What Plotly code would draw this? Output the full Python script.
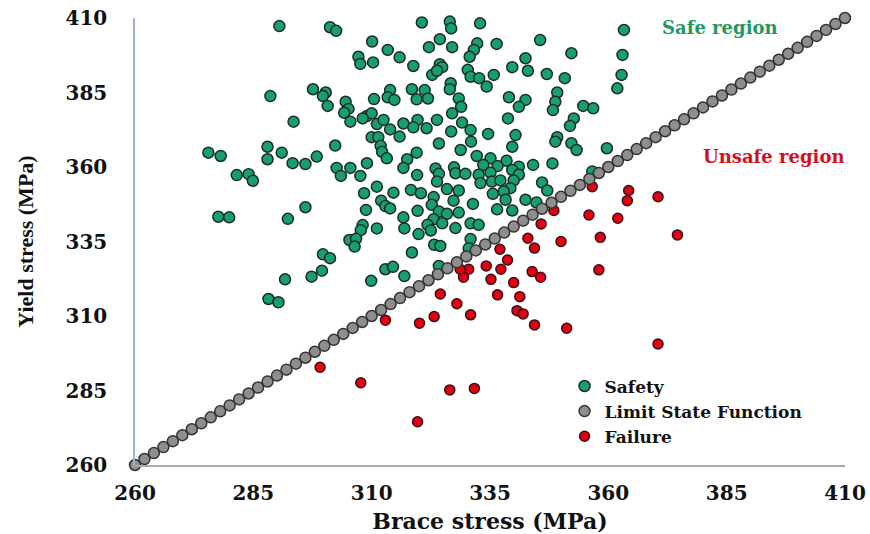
import plotly.graph_objects as go

# ---- data (MPa) ----
safety_x = [290.5, 301.2, 302.5, 310.1, 313.4, 307.2, 307.6, 310.3, 315.9, 288.6, 297.6, 300.3, 299.7, 304.5,
            300.7, 305.1, 304.2, 310.5, 313.9, 313.4, 314.8, 293.5, 305.5, 309.0, 310.0, 308.1, 311.1, 312.5,
            313.9, 316.7, 310.0, 311.4, 311.9, 315.9, 275.5, 278.1, 288.0, 291.0, 288.0, 302.3, 298.4, 293.3,
            296.0, 309.0, 312.2, 313.2, 317.5, 302.6, 305.5, 316.7,
            281.5, 284.0, 284.9, 303.5, 307.6, 319.6, 311.1, 308.4, 314.6, 318.3, 312.0, 312.9, 313.9, 308.8,
            296.0, 277.6, 279.9, 292.3, 316.7, 319.7, 308.1, 307.7, 311.1, 316.9, 319.9, 305.3, 306.7, 306.4,
            318.5, 299.7, 301.2, 299.5, 297.3, 312.9, 314.5, 316.9, 291.7, 309.9, 288.2, 290.3,
            320.6, 326.5, 326.8, 332.9, 363.3, 324.4, 322.1, 327.0, 332.3, 336.4, 331.6, 330.7, 345.6, 352.2,
            363.0, 342.5, 318.8, 324.4, 324.9, 322.8, 323.8, 330.3, 330.9, 332.7, 335.8, 339.7, 343.0, 347.0,
            350.8, 362.8, 361.9, 334.3, 326.7, 326.5, 318.5, 321.2, 319.5, 321.9, 328.4, 328.9, 339.0, 342.5,
            341.1, 349.2, 348.8, 348.3, 354.7, 356.8, 319.7, 323.8, 318.8, 321.6, 327.0, 329.1, 338.8, 352.7,
            351.9, 326.8, 330.9, 334.6, 340.4, 331.0, 324.2, 349.2, 348.8, 352.2, 353.3, 359.7, 339.7, 319.5,
            328.8, 332.2, 335.1, 338.5, 333.6, 336.6, 341.1, 344.1, 348.2, 323.5, 327.4,
            324.2, 327.7, 329.8, 332.6, 335.1, 339.7, 341.1, 323.8, 333.0, 335.4, 337.2, 340.0, 339.3, 346.0,
            347.1, 320.4, 325.9, 328.4, 323.1, 327.3, 331.4, 335.6, 337.9, 338.3, 342.5, 344.8, 322.7, 324.2,
            325.9, 328.4, 323.1, 321.8, 324.9, 327.7, 330.9, 332.6, 336.5, 339.7, 322.5, 323.2, 324.5, 330.9,
            330.5, 324.2, 356.6]
safety_y = [407.3, 406.9, 405.7, 402.1, 399.3, 397.0, 394.6, 395.1, 396.8, 383.8, 386.1, 385.0, 383.8, 381.9,
            380.5, 379.5, 378.2, 382.8, 385.8, 383.4, 382.5, 375.2, 375.2, 377.1, 378.0, 376.3, 374.4, 375.8,
            372.6, 374.6, 370.0, 370.0, 367.1, 370.2, 364.8, 363.7, 366.8, 364.8, 362.6, 367.2, 363.5, 361.3,
            361.0, 361.3, 365.1, 362.9, 362.6, 359.7, 359.7, 359.7,
            357.3, 357.6, 355.4, 357.0, 357.0, 357.3, 353.4, 351.2, 351.4, 352.3, 348.7, 346.9, 346.1, 345.6,
            346.5, 343.3, 343.1, 342.6, 343.1, 345.3, 340.5, 338.8, 339.4, 339.4, 337.5, 335.5, 335.9, 333.3,
            331.3, 330.7, 329.4, 325.2, 323.2, 325.7, 326.5, 323.4, 322.3, 321.8, 315.7, 314.6,
            408.5, 408.8, 406.5, 408.2, 406.0, 402.9, 400.2, 400.2, 401.5, 401.3, 399.3, 397.0, 402.6, 398.2,
            397.6, 396.5, 393.9, 394.5, 393.5, 390.9, 392.3, 392.6, 390.3, 389.8, 390.9, 393.5, 392.3, 391.2,
            389.8, 390.9, 386.4, 387.0, 388.1, 386.1, 386.1, 385.8, 382.7, 383.0, 383.0, 380.2, 383.4, 382.5,
            380.2, 385.0, 381.9, 379.1, 380.5, 379.7, 375.8, 375.8, 373.3, 373.0, 378.0, 374.9, 376.3, 376.3,
            373.8, 371.9, 372.4, 371.1, 370.7, 368.5, 367.9, 370.0, 368.5, 368.0, 365.7, 366.3, 366.8, 364.8,
            365.7, 363.7, 362.9, 362.1, 360.7, 360.3, 360.1, 360.7, 361.2, 359.5, 359.9,
            357.7, 357.9, 357.7, 357.4, 358.1, 359.0, 357.4, 355.1, 354.6, 355.1, 355.5, 355.5, 352.9, 354.8,
            352.1, 351.2, 352.6, 352.1, 349.9, 348.7, 347.6, 351.0, 351.8, 349.0, 349.0, 348.1, 347.3, 345.1,
            344.3, 344.7, 342.5, 340.6, 341.1, 339.5, 341.1, 340.6, 345.8, 345.4, 338.7, 333.9, 333.5, 335.8,
            332.7, 326.8, 358.5]

failure_x = [356.6, 364.3, 364.0, 348.5, 345.8, 355.9, 362.0, 343.0, 350.0, 358.3, 344.4, 337.1, 338.7, 334.2,
             337.3, 330.5, 329.4, 343.9, 345.7, 358.0, 335.2, 340.0, 324.5, 336.6, 341.3, 328.0, 330.9, 340.7,
             342.0, 323.2, 320.1, 344.4, 351.2, 370.5, 374.6, 370.5, 328.7, 312.9, 299.1, 307.7, 326.5, 331.7,
             319.7]
failure_y = [353.4, 352.1, 348.7, 345.4, 340.9, 343.9, 342.8, 336.1, 335.0, 336.4, 332.8, 332.4, 328.8, 326.8,
             325.7, 325.7, 323.0, 324.9, 323.0, 325.5, 322.3, 321.2, 317.4, 317.1, 316.5, 314.1, 310.4, 311.8,
             310.7, 309.8, 307.6, 307.0, 305.9, 350.0, 337.2, 300.6, 325.7, 308.6, 292.8, 287.6, 285.2, 285.7,
             274.5]

lsf_x = list(range(260, 411, 2))
lsf_y = list(range(260, 411, 2))

tick_vals = [260, 285, 310, 335, 360, 385, 410]

GREEN = "#17a06b"
RED = "#e5000f"
GRAY = "#8e8e8e"
EDGE = "#1b2a30"

fig = go.Figure()
fig.add_trace(go.Scatter(
    x=safety_x, y=safety_y, mode="markers", name="Safety", legendrank=1,
    marker=dict(size=11, color=GREEN, line=dict(color=EDGE, width=1.5)), cliponaxis=False))
fig.add_trace(go.Scatter(
    x=failure_x, y=failure_y, mode="markers", name="Failure", legendrank=3,
    marker=dict(size=10, color=RED, line=dict(color="#3a0d18", width=1.5)), cliponaxis=False))
fig.add_trace(go.Scatter(
    x=lsf_x, y=lsf_y, mode="markers", name="Limit State Function", legendrank=2,
    marker=dict(size=11, color=GRAY, line=dict(color="#333333", width=1.5)), cliponaxis=False))

tick_font = dict(family="DejaVu Serif", size=20, color="#111111", weight="bold")

fig.update_layout(
    width=870, height=534,
    margin=dict(l=135, r=25, t=18, b=69, autoexpand=False),
    paper_bgcolor="white", plot_bgcolor="white",
    showlegend=True,
    legend=dict(x=0.605, y=0.216, xanchor="left", yanchor="top",
                bgcolor="rgba(0,0,0,0)", itemwidth=30,
                font=dict(family="DejaVu Serif", size=17, color="#111111", weight="bold"),
                tracegroupgap=0),
    xaxis=dict(range=[260, 410], tickvals=tick_vals, showgrid=False, zeroline=False,
               showline=True, linecolor="#a9a9a9", linewidth=1.5, ticks="", automargin=False,
               tickfont=tick_font, ticklabelstandoff=9,
               title=dict(text="Brace stress (MPa)", standoff=10,
                          font=dict(family="DejaVu Serif", size=22, color="#111111", weight="bold"))),
    yaxis=dict(range=[260, 410], tickvals=tick_vals, showgrid=False, zeroline=False,
               showline=True, linecolor="#9fb2c9", linewidth=1.5, ticks="", automargin=False,
               tickfont=tick_font, ticklabelstandoff=22,
               title=dict(text="Yield stress (MPa)", standoff=26,
                          font=dict(family="Liberation Serif", size=22, color="#111111", weight="bold"))),
    annotations=[
        dict(text="Safe region", x=0.824, y=0.978, xref="paper", yref="paper", showarrow=False,
             xanchor="center", yanchor="middle",
             font=dict(family="DejaVu Serif", size=18, color="#1f9a5e", weight="bold")),
        dict(text="Unsafe region", x=0.9, y=0.69, xref="paper", yref="paper", showarrow=False,
             xanchor="center", yanchor="middle",
             font=dict(family="DejaVu Serif", size=18, color="#d41020", weight="bold")),
    ],
)

fig.write_html("out.html")
